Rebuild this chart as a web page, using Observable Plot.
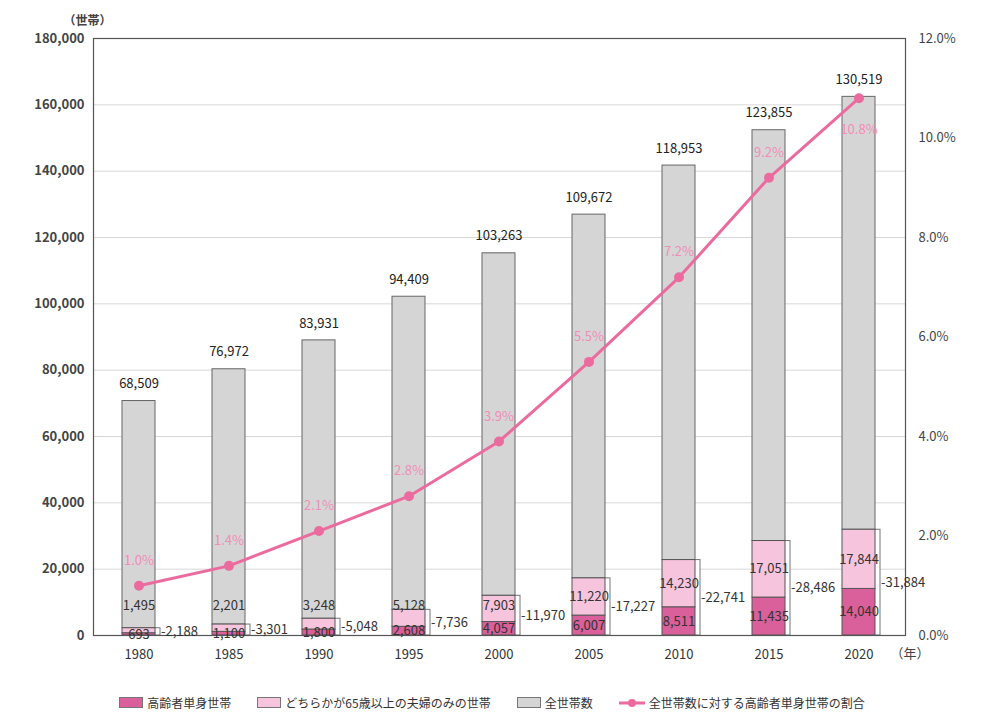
<!DOCTYPE html>
<html><head><meta charset="utf-8">
<script src="https://cdn.jsdelivr.net/npm/d3@7"></script>
<script src="https://cdn.jsdelivr.net/npm/@observablehq/plot@0.6"></script>
<style>
body{margin:0;background:#fff;font-family:"Noto Sans CJK JP","Noto Sans",sans-serif;}
#legend{display:flex;justify-content:center;gap:26px;font-size:12px;color:#333;margin-top:14px;}
#legend span{display:inline-flex;align-items:center;gap:4px;}
.sw{display:inline-block;width:22px;height:9px;border:1px solid #777;}
</style></head><body>
<div id="chart"></div>
<div id="legend"></div>
<script>
const years = ["1980","1985","1990","1995","2000","2005","2010","2015","2020"];
const totals = [68509,76972,83931,94409,103263,109672,118953,123855,130519];
const single = [693,1100,1800,2608,4057,6007,8511,11435,14040];
const couples = [1495,2201,3248,5128,7903,11220,14230,17051,17844];
const sums = [2188,3301,5048,7736,11970,17227,22741,28486,31884];
const ratio = [1.0,1.4,2.1,2.8,3.9,5.5,7.2,9.2,10.8];
const leftTicks = [0,20000,40000,60000,80000,100000,120000,140000,160000,180000];
const rightTicks = [0,2,4,6,8,10,12];

const C_DARK="#d9609a", C_LIGHT="#f6c4dd", C_GRAY="#d5d5d5", C_LINE="#ec6b9f", C_PCT="#f08db8";
const K = 180000/12; // right axis scale factor

const rows = years.map((y,i)=>({
  year:y, total:totals[i], single:single[i], couples:couples[i], sum:sums[i], ratio:ratio[i],
  rv: ratio[i]*K,
  lightLabelY: Math.max(single[i] + couples[i]/2, 9000),
  darkLabelY: single[i]/2
}));
const fmt = d3.format(",");

const chart = Plot.plot({
  width:984, height:680,
  marginLeft:93, marginRight:79, marginTop:38, marginBottom:45,
  style:{fontFamily:'"Noto Sans CJK JP","Noto Sans",sans-serif', fontSize:"13px", color:"#333"},
  x:{domain:years, paddingInner:0.63, paddingOuter:0.315, label:null},
  y:{domain:[0,180000], label:null},
  marks:[
    Plot.gridY(leftTicks,{stroke:"#d8d8d8", strokeOpacity:1}),
    Plot.axisY(leftTicks,{tickFormat:d=>fmt(d), tickSize:0, tickPadding:9, fontWeight:"bold", fill:"#444", label:null}),
    Plot.axisY(rightTicks.map(t=>t*K),{anchor:"right", tickFormat:d=>(d/K).toFixed(1)+"%", tickSize:0, tickPadding:13, fill:"#444", label:null}),
    Plot.axisX({tickSize:0, tickPadding:14, fill:"#333", label:null}),
    Plot.text(["（世帯）"],{frameAnchor:"top-left", dx:-30, dy:-22, fontWeight:"bold", fill:"#444", fontSize:12}),
    Plot.text(["（年）"],{frameAnchor:"bottom-right", dx:24, dy:22, fill:"#444", fontSize:13}),
    // white shadow box of sum
    Plot.rectY(rows,{x:"year", y1:0, y2:"sum", fill:"#fff", stroke:"#777", strokeWidth:1, dx:5}),
    // gray total bars stacked on top
    Plot.rectY(rows,{x:"year", y1:"sum", y2:d=>d.sum+d.total, fill:C_GRAY, stroke:"#666", strokeWidth:1}),
    Plot.rectY(rows,{x:"year", y1:0, y2:"single", fill:C_DARK, stroke:"#555", strokeWidth:1}),
    Plot.rectY(rows,{x:"year", y1:"single", y2:"sum", fill:C_LIGHT, stroke:"#555", strokeWidth:1}),
    Plot.frame({stroke:"#555", strokeWidth:1.2}),
    // total labels
    Plot.text(rows,{x:"year", y:d=>d.sum+d.total, text:d=>fmt(d.total), dy:-17, fill:"#222", fontSize:13}),
    // segment labels
    Plot.text(rows,{x:"year", y:"lightLabelY", text:d=>fmt(d.couples), fill:"#333", fontSize:13}),
    Plot.text(rows,{x:"year", y:"darkLabelY", text:d=>fmt(d.single), dy:0, fill:"#333", fontSize:13}),
    // sum labels
    Plot.text(rows,{x:"year", y:d=>d.sum/2, text:d=>"-"+fmt(d.sum), textAnchor:"start", dx:22, fill:"#333", fontSize:13}),
    // ratio line
    Plot.line(rows,{x:"year", y:"rv", stroke:C_LINE, strokeWidth:3}),
    Plot.dot(rows,{x:"year", y:"rv", r:5, fill:C_LINE, stroke:"none"}),
    Plot.text(rows.slice(0,-1),{x:"year", y:"rv", text:d=>d.ratio.toFixed(1)+"%", dy:-25, fill:C_PCT, fontSize:13}),
    Plot.text(rows.slice(-1),{x:"year", y:"rv", text:d=>d.ratio.toFixed(1)+"%", dy:32, fill:C_PCT, fontSize:13})
  ]
});
document.getElementById("chart").appendChild(chart);

const legend = document.getElementById("legend");
legend.innerHTML = `
<span><i class="sw" style="background:${C_DARK}"></i>高齢者単身世帯</span>
<span><i class="sw" style="background:${C_LIGHT}"></i>どちらかが65歳以上の夫婦のみの世帯</span>
<span><i class="sw" style="background:${C_GRAY}"></i>全世帯数</span>
<span><svg width="26" height="10"><line x1="0" y1="5" x2="26" y2="5" stroke="${C_LINE}" stroke-width="3"/><circle cx="13" cy="5" r="4" fill="${C_LINE}"/></svg>全世帯数に対する高齢者単身世帯の割合</span>`;
</script>
</body></html>
